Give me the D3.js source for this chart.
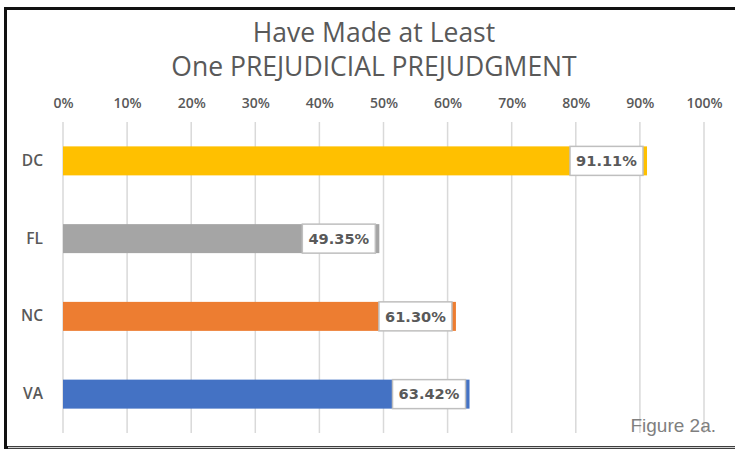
<!DOCTYPE html>
<html>
<head>
<meta charset="utf-8">
<script src="https://cdn.jsdelivr.net/npm/d3@7"></script>
<style>
  body { margin: 0; background: #fff; }
  text { font-family: "Open Sans", "Liberation Sans", sans-serif; }
</style>
</head>
<body>
<div id="chart"></div>
<script>
// data
var states = ["DC", "FL", "NC", "VA"];
var values = [91.11, 49.35, 61.30, 63.42];
var barColors = ["#FFC000", "#A5A5A5", "#ED7D31", "#4472C4"];
var tickValues = [0, 10, 20, 30, 40, 50, 60, 70, 80, 90, 100];
var titleLines = ["Have Made at Least", "One PREJUDICIAL PREJUDGMENT"];

var W = 735, H = 450;
var margin = { top: 122, right: 31, bottom: 17, left: 63 };
var width = W - margin.left - margin.right,
  height = H - margin.top - margin.bottom;

var root = d3.select("#chart").append("svg")
  .attr("width", W)
  .attr("height", H);

// frame
root.append("rect")
  .attr("x", 5.5).attr("y", 8.5)
  .attr("width", W + 10).attr("height", 439)
  .attr("fill", "#fff")
  .attr("stroke", "#111")
  .attr("stroke-width", 3);
root.append("line")
  .attr("x1", 8).attr("x2", W)
  .attr("y1", 447.5).attr("y2", 447.5)
  .attr("stroke", "#d0d0d0").attr("stroke-width", 1.5);

// title
root.selectAll(".title")
  .data(titleLines)
  .enter().append("text")
  .attr("class", "title")
  .attr("x", 374)
  .attr("y", function(d, i) { return 42 + i * 34; })
  .attr("text-anchor", "middle")
  .attr("fill", "#595959")
  .style("font-size", "26.5px")
  .text(function(d) { return d; });

var svg = root.append("g")
  .attr("transform", "translate(" + margin.left + "," + margin.top + ")");

var x = d3.scaleLinear().domain([0, 100]).range([0, width]);
var y = d3.scaleBand().domain(states).range([0, height]).paddingInner(0.627).paddingOuter(0.3135);

// gridlines
svg.selectAll(".grid")
  .data(tickValues)
  .enter().append("line")
  .attr("x1", function(d) { return x(d); })
  .attr("x2", function(d) { return x(d); })
  .attr("y1", 0).attr("y2", height)
  .attr("stroke", "#d9d9d9")
  .attr("stroke-width", 1.5);

// top axis
var xAxis = svg.append("g")
  .attr("transform", "translate(0,-14.5)")
  .call(d3.axisTop(x).tickValues(tickValues).tickSize(0).tickPadding(0).tickFormat(function(d) { return d + "%"; }));
xAxis.select(".domain").remove();
xAxis.selectAll("text")
  .attr("fill", "#595959")
  .style("font-size", "14px")
  .style("font-weight", "600")
  .style("font-family", "'Open Sans', sans-serif");

// left axis
var yAxis = svg.append("g")
  .call(d3.axisLeft(y).tickSize(0).tickPadding(20));
yAxis.select(".domain").remove();
yAxis.selectAll("text")
  .attr("fill", "#595959")
  .style("font-size", "15.5px")
  .style("font-weight", "600")
  .style("font-family", "'Open Sans', sans-serif");

// bars
svg.selectAll(".bar")
  .data(states)
  .enter().append("rect")
  .attr("class", "bar")
  .attr("x", 0)
  .attr("y", function(d) { return y(d); })
  .attr("width", function(d, i) { return x(values[i]); })
  .attr("height", y.bandwidth())
  .attr("fill", function(d, i) { return barColors[i]; });

// data labels
var lblW = 73;
var lbl = svg.selectAll(".lbl")
  .data(states)
  .enter().append("g")
  .attr("transform", function(d, i) {
    return "translate(" + (x(values[i]) - 4 - lblW) + "," + y(d) + ")";
  });
lbl.append("rect")
  .attr("width", lblW)
  .attr("height", y.bandwidth())
  .attr("fill", "#fff")
  .attr("stroke", "#bfbfbf")
  .attr("stroke-width", 1.5);
lbl.append("text")
  .attr("x", lblW / 2)
  .attr("y", y.bandwidth() / 2)
  .attr("dy", "0.36em")
  .attr("text-anchor", "middle")
  .attr("fill", "#595959")
  .style("font-family", "'DejaVu Sans', Verdana, sans-serif")
  .style("font-size", "14.6px")
  .style("font-weight", "bold")
  .text(function(d, i) { return values[i].toFixed(2) + "%"; });

// figure caption
root.append("text")
  .attr("x", 716)
  .attr("y", 432)
  .attr("text-anchor", "end")
  .attr("fill", "#7f7f7f")
  .style("font-family", "'Liberation Sans', Arial, sans-serif")
  .style("font-size", "19px")
  .text("Figure 2a.");
</script>
</body>
</html>
